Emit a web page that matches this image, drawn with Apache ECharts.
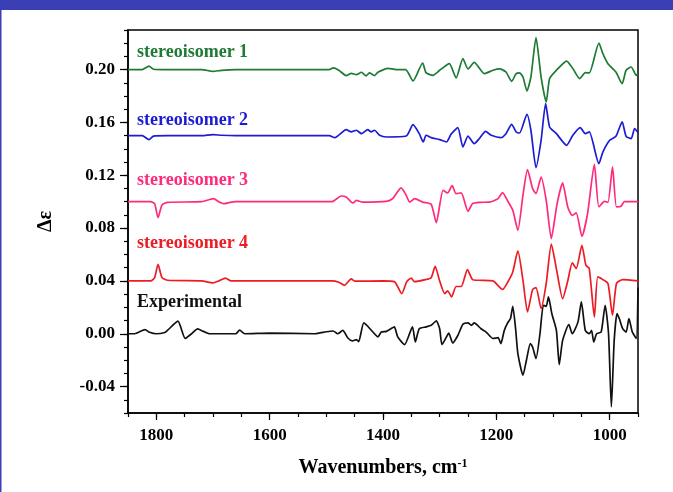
<!DOCTYPE html>
<html>
<head>
<meta charset="utf-8">
<title>VCD spectra</title>
<script src="https://cdn.jsdelivr.net/npm/echarts@6/dist/echarts.min.js"></script>
<style>
  html, body { margin: 0; padding: 0; background: #fff; }
  #chart { width: 673px; height: 492px; }
</style>
</head>
<body>
<div id="chart"></div>
<script>
// Calculated and measured VCD spectra, [wavenumber (cm-1), Δε] pairs.
// Calculated spectra are stacked with offsets 0.20, 0.15, 0.10 and 0.04.
const isomer1 = [
  [1850,0.200],[1825,0.200],[1813,0.2027],[1805,0.2003],[1780,0.200],[1720,0.200],[1700,0.1987],
  [1685,0.1995],[1660,0.200],[1495,0.200],[1488,0.2013],[1478,0.1995],[1465,0.1955],[1456,0.1972],
  [1447,0.1962],[1438,0.198],[1430,0.1952],[1424,0.1975],[1415,0.1955],[1409,0.198],[1391,0.201],
  [1377,0.200],[1360,0.200],[1347,0.1914],[1330,0.205],[1324,0.1977],[1312,0.1957],[1300,0.1995],
  [1283,0.2045],[1271,0.1937],[1259,0.2083],[1250,0.2005],[1239,0.2055],[1221,0.197],[1206,0.1995],
  [1194,0.2005],[1183,0.1982],[1173,0.1911],[1165,0.197],[1159,0.1975],[1153,0.1944],[1146,0.1838],
  [1139,0.1944],[1130,0.2242],[1121,0.1944],[1112,0.1755],[1106,0.1932],[1094,0.1995],[1076,0.2065],
  [1065,0.2008],[1053,0.1932],[1043,0.1977],[1036,0.1975],[1019,0.2201],[1012,0.2121],[1003,0.2045],
  [989,0.1982],[978,0.1894],[971,0.1995],[962,0.202],[953,0.1957],[950,0.197]
];
const isomer2 = [
  [1850,0.150],[1825,0.150],[1813,0.147],[1805,0.1497],[1780,0.150],[1720,0.150],[1700,0.1508],
  [1685,0.1503],[1660,0.150],[1495,0.150],[1485,0.1485],[1465,0.1546],[1456,0.1528],[1447,0.1541],
  [1438,0.1515],[1427,0.1546],[1421,0.1528],[1415,0.1541],[1406,0.1503],[1394,0.149],[1359,0.1497],
  [1347,0.1583],[1336,0.1515],[1329,0.1452],[1324,0.1503],[1315,0.1485],[1300,0.147],[1288,0.1452],
  [1280,0.151],[1268,0.1561],[1259,0.1414],[1250,0.1497],[1239,0.144],[1230,0.1478],[1219,0.1532],
  [1209,0.1503],[1192,0.1485],[1183,0.1515],[1173,0.1586],[1165,0.1528],[1159,0.152],[1146,0.1662],
  [1139,0.1541],[1130,0.1258],[1121,0.1465],[1113,0.1743],[1106,0.1566],[1094,0.1515],[1076,0.1427],
  [1065,0.1503],[1052,0.1561],[1043,0.1515],[1036,0.1528],[1019,0.1288],[1012,0.1376],[1000,0.1465],
  [989,0.1495],[978,0.1604],[971,0.1495],[962,0.1478],[956,0.1553],[950,0.1523]
];
const isomer3 = [
  [1850,0.100],[1810,0.100],[1803,0.0985],[1797,0.088],[1790,0.0975],[1780,0.0995],[1720,0.100],
  [1699,0.1023],[1690,0.100],[1680,0.0985],[1670,0.0995],[1660,0.100],[1490,0.100],[1474,0.1043],
  [1465,0.1036],[1453,0.099],[1447,0.101],[1436,0.0997],[1394,0.1003],[1383,0.1023],[1368,0.1104],
  [1359,0.1048],[1353,0.0997],[1344,0.1023],[1330,0.0997],[1315,0.098],[1306,0.0842],[1294,0.1086],
  [1286,0.1066],[1278,0.1122],[1271,0.1061],[1262,0.1066],[1250,0.0927],[1242,0.0985],[1230,0.0995],
  [1212,0.0997],[1197,0.1023],[1189,0.1069],[1180,0.1005],[1171,0.0935],[1162,0.0784],[1153,0.105],
  [1145,0.1243],[1136,0.1099],[1130,0.1061],[1121,0.1187],[1112,0.1011],[1103,0.0721],[1093,0.098],
  [1083,0.1142],[1074,0.096],[1066,0.0897],[1059,0.0915],[1049,0.0738],[1039,0.091],[1027,0.1283],
  [1019,0.096],[1009,0.1003],[1003,0.0995],[995,0.1263],[988,0.096],[980,0.0965],[974,0.100],[950,0.100]
];
const isomer4 = [
  [1850,0.040],[1810,0.040],[1803,0.0425],[1797,0.0526],[1790,0.0425],[1780,0.0405],[1720,0.040],
  [1700,0.0385],[1690,0.040],[1678,0.0422],[1668,0.040],[1490,0.040],[1478,0.039],[1468,0.0367],
  [1456,0.0415],[1450,0.0398],[1400,0.040],[1380,0.0395],[1367,0.0304],[1358,0.0395],[1350,0.0422],
  [1345,0.0395],[1325,0.041],[1315,0.0425],[1308,0.0511],[1300,0.040],[1291,0.0304],[1286,0.0325],
  [1279,0.0279],[1271,0.0358],[1262,0.0358],[1251,0.0486],[1242,0.041],[1230,0.0405],[1206,0.040],
  [1189,0.0335],[1180,0.039],[1171,0.0468],[1162,0.0627],[1153,0.0405],[1145,0.0165],[1136,0.0335],
  [1130,0.035],[1121,0.0191],[1112,0.038],[1103,0.0678],[1093,0.0468],[1083,0.0266],[1074,0.040],
  [1066,0.0536],[1059,0.0494],[1049,0.067],[1042,0.0519],[1036,0.0494],[1027,0.0127],[1021,0.043],
  [1012,0.041],[1003,0.038],[995,0.014],[988,0.038],[977,0.041],[950,0.040]
];
const experimental = [
  [1850,0.000],[1838,0.000],[1820,0.0032],[1812,0.0011],[1800,0.000],[1785,0.001],[1780,0.0027],
  [1762,0.0095],[1749,-0.0036],[1738,0.000],[1727,0.0037],[1718,0.002],[1706,0.000],[1660,0.000],
  [1653,0.0027],[1644,0.000],[1600,0.0005],[1520,0.000],[1500,0.0015],[1488,0.0021],[1480,0.000],
  [1471,0.0025],[1462,-0.0032],[1454,-0.0054],[1447,-0.0044],[1443,-0.006],[1434,0.0082],[1427,0.0057],
  [1415,0.000],[1409,-0.0024],[1403,0.0013],[1394,0.0018],[1386,0.0038],[1380,0.0052],[1374,-0.0024],
  [1362,-0.0082],[1348,0.0052],[1343,-0.0062],[1336,0.0038],[1324,0.0052],[1315,0.0064],[1306,0.0097],
  [1300,0.0038],[1296,-0.0082],[1288,-0.0024],[1284,0.0005],[1277,-0.007],[1268,-0.0013],[1259,0.0072],
  [1250,0.0082],[1244,0.0064],[1239,0.0082],[1227,0.0038],[1218,0.0013],[1206,-0.0036],[1197,-0.003],
  [1192,-0.0074],[1186,0.0025],[1180,0.0082],[1175,0.0115],[1171,0.0208],[1166,0.0038],[1162,-0.015],
  [1153,-0.0314],[1147,-0.0202],[1140,-0.0074],[1136,-0.01],[1130,-0.0188],[1123,0.000],[1117,0.0216],
  [1112,0.0208],[1108,0.0279],[1102,0.0151],[1094,0.0025],[1089,-0.0233],[1083,-0.005],[1072,0.007],
  [1066,0.000],[1056,0.0088],[1050,0.0241],[1043,0.0025],[1036,0.000],[1032,0.0025],[1028,-0.0062],
  [1023,0.000],[1015,0.0013],[1008,0.0216],[1002,0.000],[997,-0.0554],[992,-0.005],[987,0.0153],
  [983,0.0115],[977,0.0038],[971,0.0013],[966,0.0115],[960,0.0013],[953,-0.0036],[950,0.035]
];

const seriesNames = ['stereoisomer 1', 'stereoisomer 2', 'stereoisomer 3', 'stereoisomer 4', 'Experimental'];
const seriesColors = ['#1f7a34', '#1c1cd4', '#ff2a7c', '#ec1c24', '#111111'];
const seriesData = [isomer1, isomer2, isomer3, isomer4, experimental];

// Axis ticks and labels
const xLabelValues = [1000, 1200, 1400, 1600, 1800];
const xMinorValues = [];
for (let v = 950; v <= 1850; v += 50) xMinorValues.push(v);
const yLabelValues = [-0.04, 0.00, 0.04, 0.08, 0.12, 0.16, 0.20];
const yMinorValues = [];
for (let i = -6; i <= 23; i++) yMinorValues.push(i / 100);

const FONT = '"Liberation Serif", "Times New Roman", serif';

const chart = echarts.init(document.getElementById('chart'), null, { renderer: 'canvas' });

const xBase = {
  type: 'value', min: 950, max: 1850, inverse: true, position: 'bottom',
  splitLine: { show: false }
};
const yBase = {
  type: 'value', min: -0.06, max: 0.23, position: 'left',
  splitLine: { show: false }
};

// Series captions drawn next to each trace
const captionY = [53, 121, 181, 244, 303];
const captions = seriesNames.map((name, i) => ({
  type: 'text', left: 137, top: captionY[i] - 10,
  style: { text: name, fill: seriesColors[i], font: 'bold 18px ' + FONT }
}));

chart.setOption({
  animation: false,
  backgroundColor: '#ffffff',
  grid: { left: 128, right: 35, top: 30, bottom: 79, show: true, borderColor: '#000', borderWidth: 1.5 },
  xAxis: [
    Object.assign({}, xBase, {
      axisLine: { show: true, onZero: false, lineStyle: { color: '#000', width: 1.5 } },
      axisTick: { show: true, length: 4, customValues: xMinorValues, lineStyle: { color: '#000', width: 1.2 } },
      axisLabel: {
        customValues: xLabelValues, margin: 14, color: '#000',
        fontFamily: FONT, fontWeight: 'bold', fontSize: 17,
        formatter: v => String(v)
      },
      name: '{m|Wavenumbers, cm}{s|-1}',
      nameLocation: 'middle', nameGap: 45,
      nameTextStyle: {
        rich: {
          m: { fontFamily: FONT, fontWeight: 'bold', fontSize: 20, color: '#000' },
          s: { fontFamily: FONT, fontWeight: 'bold', fontSize: 12, color: '#000', verticalAlign: 'top' }
        }
      }
    }),
    Object.assign({}, xBase, {
      axisLine: { show: false, onZero: false },
      axisTick: { show: true, length: 7, customValues: xLabelValues, lineStyle: { color: '#000', width: 1.2 } },
      axisLabel: { show: false }
    })
  ],
  yAxis: [
    Object.assign({}, yBase, {
      axisLine: { show: true, onZero: false, lineStyle: { color: '#000', width: 1.5 } },
      axisTick: { show: true, length: 4, customValues: yMinorValues, lineStyle: { color: '#000', width: 1.2 } },
      axisLabel: {
        customValues: yLabelValues, margin: 13, color: '#000',
        fontFamily: FONT, fontWeight: 'bold', fontSize: 17,
        formatter: v => v.toFixed(2)
      },
      name: 'Δε', nameLocation: 'middle', nameRotate: 90, nameGap: 72,
      nameTextStyle: { fontFamily: FONT, fontWeight: 'bold', fontSize: 20, color: '#000' }
    }),
    Object.assign({}, yBase, {
      axisLine: { show: false, onZero: false },
      axisTick: { show: true, length: 8, customValues: yLabelValues, lineStyle: { color: '#000', width: 1.2 } },
      axisLabel: { show: false }
    })
  ],
  series: seriesData.map((d, i) => ({
    name: seriesNames[i], type: 'line', data: d,
    xAxisIndex: 0, yAxisIndex: 0,
    showSymbol: false, smooth: 0.2,
    lineStyle: { color: seriesColors[i], width: 1.7 },
    z: 10 - i
  })),
  graphic: [
    { type: 'rect', left: 0, top: 0, shape: { width: 673, height: 10 }, style: { fill: '#3a3fb4' }, z: 100 },
    { type: 'rect', left: 0, top: 0, shape: { width: 1.5, height: 492 }, style: { fill: '#3a3fb4' }, z: 100 }
  ].concat(captions)
});
</script>
</body>
</html>
